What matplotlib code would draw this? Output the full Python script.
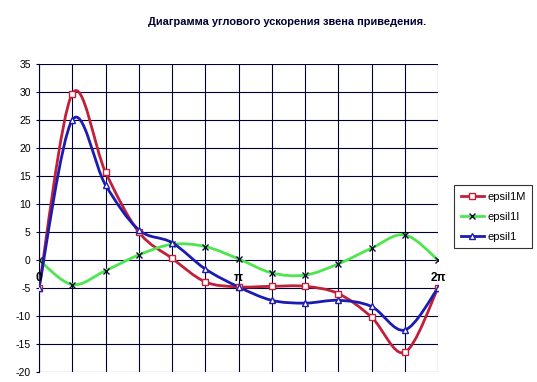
import matplotlib
matplotlib.use("Agg")
import matplotlib.pyplot as plt
from matplotlib.path import Path
from matplotlib.patches import PathPatch
from matplotlib.lines import Line2D
import numpy as np

plt.rcParams['font.family'] = ['Liberation Sans', 'DejaVu Sans']

title = "Диаграмма углового ускорения звена приведения."
n_points = 13
x_label_text = {0: "0", 6: "π", 12: "2π"}
epsil1M = [-5, 29.7, 15.7, 5.0, 0.3, -3.9, -4.8, -4.7, -4.7, -6.0, -10.2, -16.5, -5]
epsil1I = [0, -4.4, -1.9, 0.9, 2.8, 2.4, 0.2, -2.3, -2.7, -0.7, 2.1, 4.5, 0]
epsil1 = [-5, 25.0, 13.4, 5.4, 3.1, -1.6, -4.8, -7.2, -7.7, -7.2, -8.3, -12.5, -5]
names = ["epsil1M", "epsil1I", "epsil1"]
yticks = list(range(-20, 40, 5))

colors = ["#c0203a", "#4ee64e", "#1c1cb0"]
markers = ["s", "x", "^"]
mfaces = ["white", "none", "white"]
medges = ["#c0203a", "#101030", "#1c1cb0"]


def smooth_path(xs, ys):
    pts = np.column_stack([xs, ys]).astype(float)
    n = len(pts)
    verts = [pts[0]]
    codes = [Path.MOVETO]
    for i in range(n - 1):
        p0 = pts[max(i - 1, 0)]
        p1 = pts[i]
        p2 = pts[i + 1]
        p3 = pts[min(i + 2, n - 1)]
        c1 = p1 + (p2 - p0) / 6.0
        c2 = p2 - (p3 - p1) / 6.0
        verts += [c1, c2, p2]
        codes += [Path.CURVE4] * 3
    return Path(verts, codes)


fig = plt.figure(figsize=(5.37, 3.82), dpi=100)
ax = fig.add_axes([39 / 537, 1 - 372 / 382, (438 - 39) / 537, (372 - 64) / 382])

x = np.arange(n_points)
series = [epsil1M, epsil1I, epsil1]
handles = []
for s, c, m, mf, me, nm in zip(series, colors, markers, mfaces, medges, names):
    patch = PathPatch(smooth_path(x, s), facecolor="none", edgecolor=c, lw=2.0, zorder=3)
    ax.add_patch(patch)
    ax.plot(x, s, linestyle="none", marker=m, markersize=5,
            markerfacecolor=mf, markeredgecolor=me, markeredgewidth=1.0, zorder=4)
    handles.append(Line2D([], [], color=c, lw=2.0, marker=m, markersize=5,
                          markerfacecolor=mf, markeredgecolor=me, markeredgewidth=1.0))

ax.set_xlim(0, n_points - 1)
ax.set_ylim(-20, 35)
ax.set_yticks(yticks)
ax.set_yticklabels([str(v) for v in yticks], fontsize=7.5)
ax.set_xticks(x)
ax.set_xticklabels([])
ax.tick_params(axis="x", length=0)
ax.tick_params(axis="y", length=2, pad=4, color="#000033")
ax.grid(True, color="#000033", lw=0.8, zorder=1)
ax.set_axisbelow(True)
for sp in ["top", "right", "bottom"]:
    ax.spines[sp].set_visible(False)
ax.spines["left"].set_color("#000033")
ax.spines["left"].set_linewidth(0.8)

for i, lab in x_label_text.items():
    ax.text(i, -3.2, lab, ha="center", va="center", fontsize=8.5, fontweight="bold",
            color="black", zorder=5)

fig.text(287 / 537, 1 - 22 / 382, title, ha="center", va="center", fontsize=7.9,
         fontweight="bold", color="#000033")

leg = fig.legend(handles, names, loc="upper left",
                 bbox_to_anchor=(454 / 537, 1 - 185 / 382), fontsize=8,
                 frameon=True, fancybox=False, handlelength=2.1, handletextpad=0.3,
                 borderpad=0.6, labelspacing=0.9, borderaxespad=0)
leg.get_frame().set_edgecolor("black")
leg.get_frame().set_linewidth(0.8)

fig.savefig("out.png", dpi=100)
